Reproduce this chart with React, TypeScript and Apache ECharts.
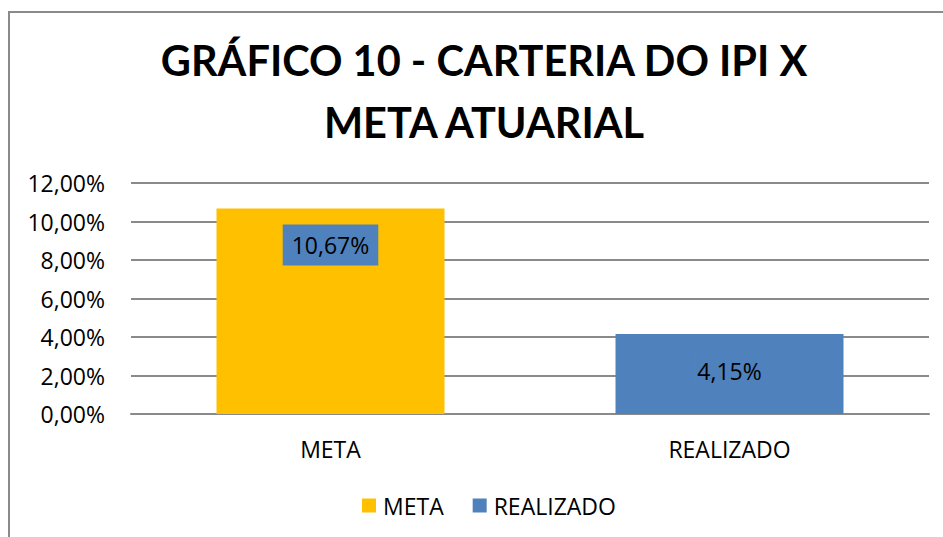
import React, { useEffect, useRef } from "react";
import * as echarts from "echarts";

const titleLines = ["GRÁFICO 10 - CARTERIA DO IPI X", "META ATUARIAL"];
const categories = ["META", "REALIZADO"];
const seriesNames = ["META", "REALIZADO"];
const metaValues: (number | string)[] = [10.67, "-"];
const realizadoValues: (number | string)[] = ["-", 4.15];
const yMin = 0;
const yMax = 12;
const yInterval = 2;

const FONT = "'Open Sans', Lato, sans-serif";
const TITLE_FONT = "Lato, 'Open Sans', sans-serif";
const fmt = (v: number) => v.toFixed(2).replace(".", ",") + "%";

export default function App() {
  const ref = useRef<HTMLDivElement>(null);
  useEffect(() => {
    if (!ref.current) return;
    const chart = echarts.init(ref.current, undefined, { renderer: "svg" });
    const labelStyle = {
      show: true,
      position: "insideTop" as const,
      distance: 16,
      formatter: (p: any) => fmt(p.value),
      fontSize: 23,
      fontFamily: FONT,
      color: "#000",
      backgroundColor: "#4F81BD",
      padding: [9, 9, 9, 9],
    };
    chart.setOption({
      animation: false,
      backgroundColor: "#fff",
      textStyle: { fontFamily: FONT },
      title: {
        text: titleLines.join("\n"),
        left: 479,
        textAlign: "center",
        top: 24,
        textStyle: {
          fontSize: 41.5,
          fontWeight: "bold",
          fontFamily: TITLE_FONT,
          color: "#000",
          lineHeight: 62,
        },
      },
      graphic: [
        {
          type: "rect",
          shape: { x: 9, y: 12, width: 1000, height: 600 },
          style: { fill: "none", stroke: "#8a8a8a", lineWidth: 2 },
          silent: true,
        },
      ],
      legend: {
        top: 489,
        left: 357,
        itemWidth: 14,
        itemHeight: 14,
        itemGap: 29,
        icon: "rect",
        textStyle: { fontSize: 23, fontFamily: FONT, color: "#000", padding: [0, 0, 0, 2] },
        data: seriesNames,
      },
      grid: { left: 131, right: 14, top: 183, bottom: 123, containLabel: false },
      xAxis: {
        type: "category",
        data: categories,
        axisTick: { show: false },
        axisLine: { lineStyle: { color: "#8a8a8a", width: 2 } },
        axisLabel: { fontSize: 23, fontFamily: FONT, color: "#000", margin: 23 },
      },
      yAxis: {
        type: "value",
        min: yMin,
        max: yMax,
        interval: yInterval,
        axisLine: { show: false },
        axisTick: { show: false },
        splitLine: { lineStyle: { color: "#8a8a8a", width: 2 } },
        axisLabel: {
          fontSize: 23,
          fontFamily: FONT,
          color: "#000",
          margin: 26,
          formatter: (v: number) => fmt(v),
        },
      },
      series: [
        {
          name: seriesNames[0],
          type: "bar",
          data: metaValues,
          barWidth: 228,
          barGap: "-100%",
          itemStyle: { color: "#FFC000" },
          label: labelStyle,
        },
        {
          name: seriesNames[1],
          type: "bar",
          data: realizadoValues,
          barWidth: 228,
          itemStyle: { color: "#4F81BD" },
          label: labelStyle,
        },
      ],
    });
    return () => chart.dispose();
  }, []);
  return (
    <div
      ref={ref}
      style={{ position: "fixed", left: 0, top: 0, width: 943, height: 537 }}
    />
  );
}
